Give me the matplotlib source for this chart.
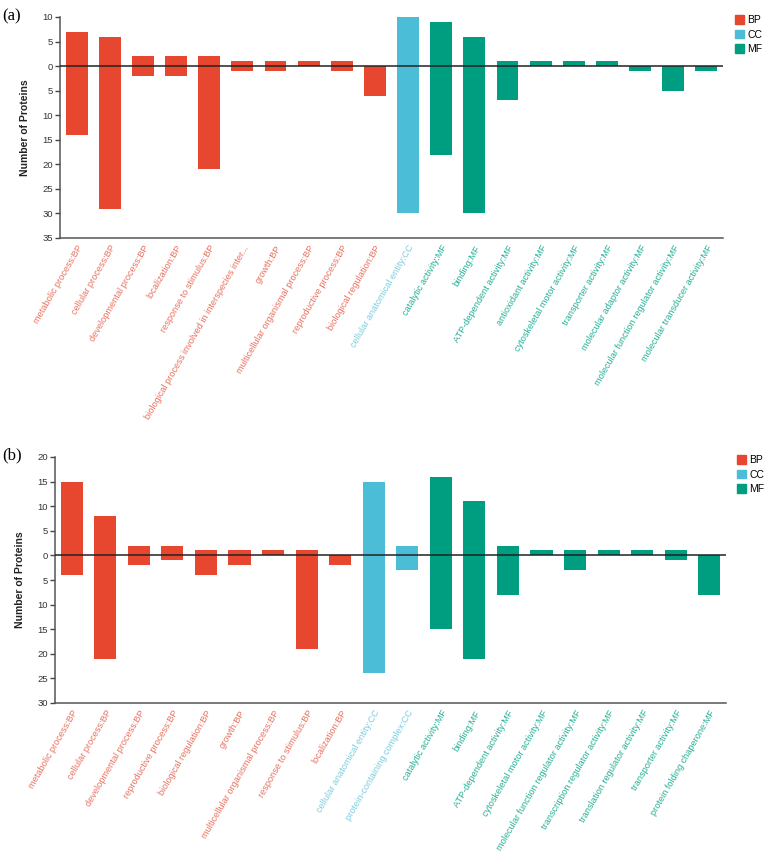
import matplotlib
matplotlib.use("Agg")
from matplotlib import pyplot as plt
from matplotlib.patches import Patch
from matplotlib.ticker import FuncFormatter, MultipleLocator

plt.rcParams['font.family'] = ['Liberation Sans', 'DejaVu Sans']

# panel (a)
terms_a = ["metabolic process:BP", "cellular process:BP", "developmental process:BP",
           "localization:BP", "response to stimulus:BP",
           "biological process involved in interspecies inter...", "growth:BP",
           "multicellular organismal process:BP", "reproductive process:BP",
           "biological regulation:BP", "cellular anatomical entity:CC",
           "catalytic activity:MF", "binding:MF", "ATP-dependent activity:MF",
           "antioxidant activity:MF", "cytoskeletal motor activity:MF",
           "transporter activity:MF", "molecular adaptor activity:MF",
           "molecular function regulator activity:MF", "molecular transducer activity:MF"]
groups_a = ["BP"] * 10 + ["CC"] + ["MF"] * 9
up_a = [7, 6, 2, 2, 2, 1, 1, 1, 1, 0, 10, 9, 6, 1, 1, 1, 1, 0, 0, 0]
down_a = [14, 29, 2, 2, 21, 1, 1, 0, 1, 6, 30, 18, 30, 7, 0, 0, 0, 1, 5, 1]

# panel (b)
terms_b = ["metabolic process:BP", "cellular process:BP", "developmental process:BP",
           "reproductive process:BP", "biological regulation:BP", "growth:BP",
           "multicellular organismal process:BP", "response to stimulus:BP",
           "localization:BP", "cellular anatomical entity:CC",
           "protein-containing complex:CC", "catalytic activity:MF", "binding:MF",
           "ATP-dependent activity:MF", "cytoskeletal motor activity:MF",
           "molecular function regulator activity:MF",
           "transcription regulator activity:MF", "translation regulator activity:MF",
           "transporter activity:MF", "protein folding chaperone:MF"]
groups_b = ["BP"] * 9 + ["CC"] * 2 + ["MF"] * 9
up_b = [15, 8, 2, 2, 1, 1, 1, 1, 0, 15, 2, 16, 11, 2, 1, 1, 1, 1, 1, 0]
down_b = [4, 21, 2, 1, 4, 2, 0, 19, 2, 24, 3, 15, 21, 8, 0, 3, 0, 0, 1, 8]

bar_col = {"BP": "#E8472F", "CC": "#4BBDD6", "MF": "#009E80"}
txt_col = {"BP": "#E8705E", "CC": "#7ACCE0", "MF": "#22AF95"}

W, H = 767, 852
fig = plt.figure(figsize=(W / 100, H / 100), dpi=100)


def panel(box, terms, groups, up, down, ylim, tag, tag_y, leg_xy):
    l, t, r, b = box
    ax = fig.add_axes([l / W, 1 - b / H, (r - l) / W, (b - t) / H])
    x = list(range(len(terms)))
    cols = [bar_col[g] for g in groups]
    ax.bar(x, up, width=0.66, color=cols, edgecolor="#f5b0a0", linewidth=0)
    ax.bar(x, [-d for d in down], width=0.66, color=cols, linewidth=0)
    ax.axhline(0, color="#222222", lw=1.1, zorder=3)
    ax.set_xlim(-0.5, len(terms) - 0.5)
    ax.set_ylim(ylim)
    ax.yaxis.set_major_locator(MultipleLocator(5))
    ax.yaxis.set_major_formatter(FuncFormatter(lambda v, p: f"{abs(v):g}"))
    ax.set_xticks(x)
    ax.set_xticklabels(terms, rotation=60, ha="right", va="top",
                       rotation_mode="anchor", fontsize=6.6)
    for lab, g in zip(ax.get_xticklabels(), groups):
        lab.set_color(txt_col[g])
    ax.tick_params(axis="x", length=0, pad=4)
    ax.tick_params(axis="y", length=3.5, width=1, color="#444444",
                   labelsize=6.8, labelcolor="#333333", pad=1.5)
    for s in ["top", "right"]:
        ax.spines[s].set_visible(False)
    for s in ["left", "bottom"]:
        ax.spines[s].set_color("#555555")
        ax.spines[s].set_linewidth(1.1)
    ax.set_ylabel("Number of Proteins", fontsize=7.5, fontweight="bold", color="#222222")
    ax.yaxis.set_label_coords(-0.045, 0.5)
    fig.text(2 / W, 1 - tag_y / H, tag, fontsize=12, family="Liberation Serif",
             va="center", ha="left")
    handles = [Patch(color=bar_col[k], label=k) for k in ["BP", "CC", "MF"]]
    ax.legend(handles=handles, loc="upper left",
              bbox_to_anchor=(leg_xy[0] / W, 1 - leg_xy[1] / H),
              bbox_transform=fig.transFigure, frameon=False, fontsize=7.5,
              handlelength=0.9, handleheight=0.9, handletextpad=0.3,
              labelspacing=0.45, borderpad=0, borderaxespad=0)
    return ax


panel((60, 17, 723, 238), terms_a, groups_a, up_a, down_a, (-35, 10), "(a)", 16, (735, 15))
panel((55, 457, 726, 703), terms_b, groups_b, up_b, down_b, (-30, 20), "(b)", 455, (737, 455))

fig.savefig("out.png", dpi=100)
